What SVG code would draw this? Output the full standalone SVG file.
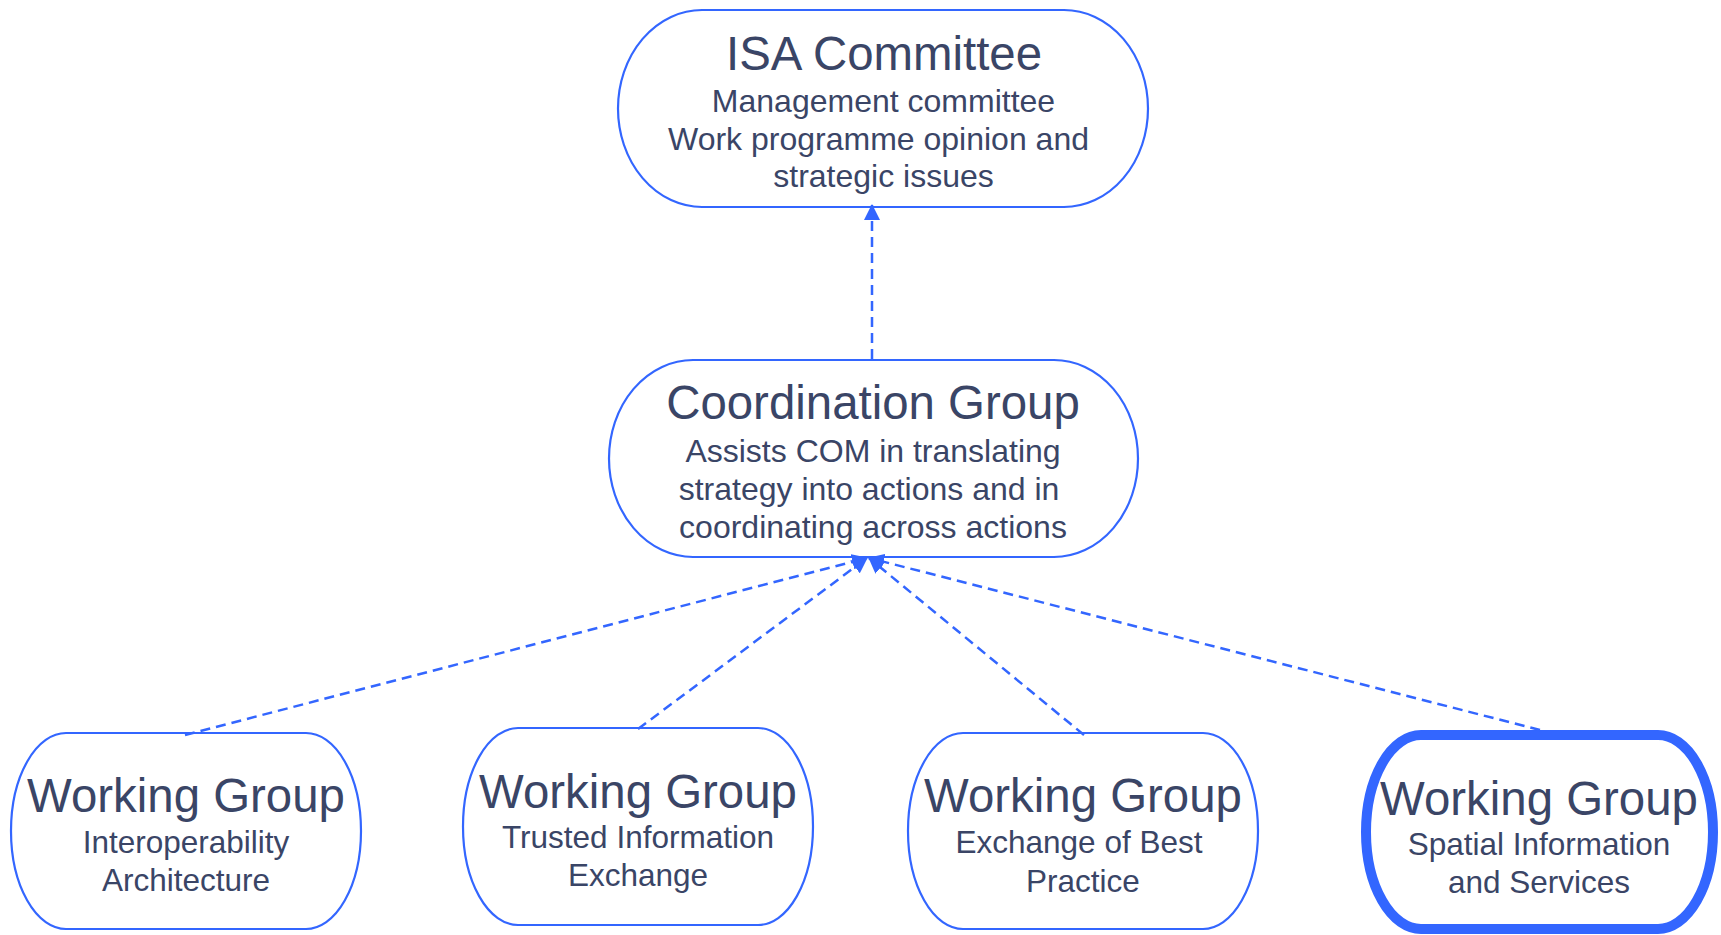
<svg xmlns="http://www.w3.org/2000/svg" width="1721" height="935" viewBox="0 0 1721 935">
  <defs>
    <style>
      .node { fill: #ffffff; stroke: #3366ff; stroke-width: 2.2; }
      .thick { stroke-width: 10; }
      .title { font-family: "Liberation Sans", Arial, sans-serif; font-size: 47.4px; fill: #3a4566; text-anchor: middle; }
      .sub { font-family: "Liberation Sans", Arial, sans-serif; font-size: 32px; fill: #3a4566; text-anchor: middle; }
      .wsub { font-family: "Liberation Sans", Arial, sans-serif; font-size: 31.5px; fill: #3a4566; text-anchor: middle; }
      .conn { fill: none; stroke: #3366ff; stroke-width: 2.5; stroke-dasharray: 10 6; marker-end: url(#arrow); }
    </style>
    <marker id="arrow" markerUnits="userSpaceOnUse" markerWidth="16" markerHeight="16" refX="15" refY="8" orient="auto">
      <path d="M0,0 L16,8 L0,16 z" fill="#3366ff"/>
    </marker>
  </defs>
  <rect width="1721" height="935" fill="#ffffff"/>

  <g id="isa-committee">
    <rect class="node" x="618" y="10" width="530" height="197" rx="84" ry="98.5"/>
    <text class="title" x="884" y="70">ISA Committee</text>
    <text class="sub" x="883.5" y="112">Management committee</text>
    <text class="sub" x="878.5" y="150">Work programme opinion and</text>
    <text class="sub" x="883.5" y="187">strategic issues</text>
  </g>

  <g id="coordination-group">
    <rect class="node" x="609" y="360" width="529" height="197" rx="84" ry="98.5"/>
    <text class="title" x="873" y="419">Coordination Group</text>
    <text class="sub" x="873" y="462">Assists COM in translating</text>
    <text class="sub" x="869" y="500">strategy into actions and in</text>
    <text class="sub" x="873" y="538">coordinating across actions</text>
  </g>

  <g id="wg-interoperability">
    <rect class="node" x="11" y="733" width="350" height="196" rx="55" ry="98"/>
    <text class="title" x="186" y="812">Working Group</text>
    <text class="wsub" x="186" y="853">Interoperability</text>
    <text class="wsub" x="186" y="891">Architecture</text>
  </g>

  <g id="wg-trusted">
    <rect class="node" x="463" y="728" width="350" height="197" rx="55" ry="98.5"/>
    <text class="title" x="638" y="808">Working Group</text>
    <text class="wsub" x="638" y="848">Trusted Information</text>
    <text class="wsub" x="638" y="886">Exchange</text>
  </g>

  <g id="wg-best-practice">
    <rect class="node" x="908" y="733" width="350" height="196" rx="55" ry="98"/>
    <text class="title" x="1083" y="812">Working Group</text>
    <text class="wsub" x="1079" y="853">Exchange of Best</text>
    <text class="wsub" x="1083" y="892">Practice</text>
  </g>

  <g id="wg-spatial">
    <rect class="node thick" x="1366" y="735" width="347" height="194" rx="55" ry="97"/>
    <text class="title" x="1539" y="815">Working Group</text>
    <text class="wsub" x="1539" y="855">Spatial Information</text>
    <text class="wsub" x="1539" y="893">and Services</text>
  </g>

  <g id="connectors">
    <path class="conn" d="M872,359 L872,205"/>
    <path class="conn" d="M185,735 L867,558"/>
    <path class="conn" d="M638,729 L867,558"/>
    <path class="conn" d="M1084,735 L869,558"/>
    <path class="conn" d="M1540,730 L869,558"/>
  </g>
</svg>
